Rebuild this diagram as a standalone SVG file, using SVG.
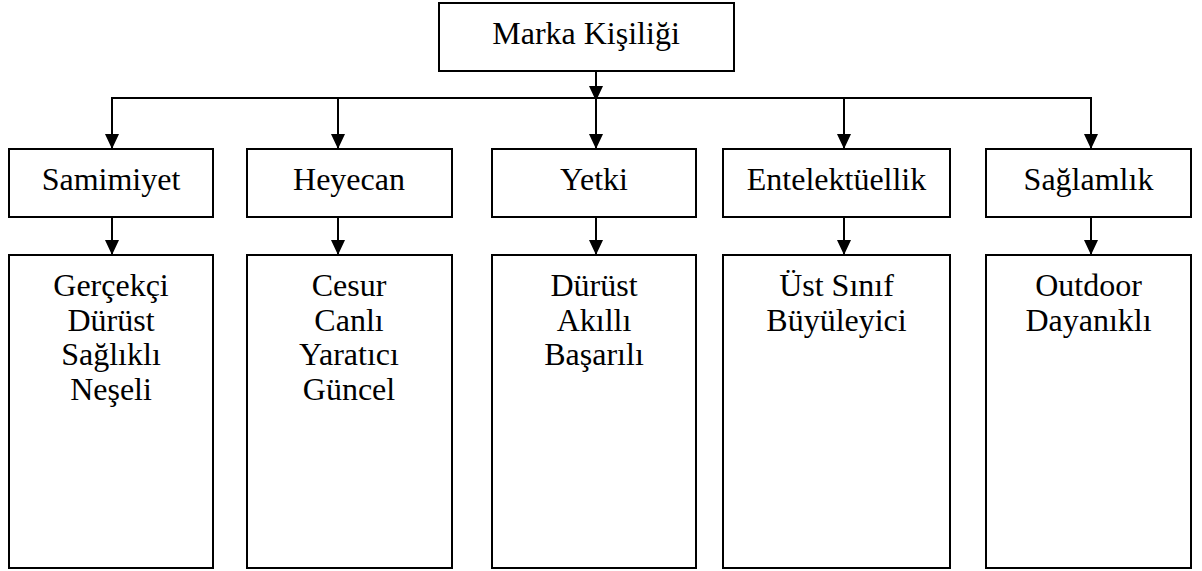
<svg xmlns="http://www.w3.org/2000/svg" width="1202" height="571" viewBox="0 0 1202 571">
<style>
.box{fill:#fff;stroke:#000;stroke-width:2}
.t{font-family:"Liberation Serif","Times New Roman",serif;font-size:32px;fill:#000;text-anchor:middle}
.c{fill:none;stroke:#000;stroke-width:2}
</style>
<defs>
<marker id="ah" viewBox="0 0 15 14" refX="15" refY="7" markerWidth="15" markerHeight="14" markerUnits="userSpaceOnUse" orient="auto">
<path d="M0,0 L15,7 L0,14 Z" fill="#000"/>
</marker>
</defs>
<rect width="1202" height="571" fill="#fff"/>
<g id="connectors">
<path class="c" d="M112,140 V98 H1091 V140"/>
<line class="c" x1="596" y1="71" x2="596" y2="101" marker-end="url(#ah)"/>
<line class="c" x1="596" y1="98" x2="596" y2="149" marker-end="url(#ah)"/>
<line class="c" x1="112" y1="98" x2="112" y2="149" marker-end="url(#ah)"/>
<line class="c" x1="338" y1="98" x2="338" y2="149" marker-end="url(#ah)"/>
<line class="c" x1="844" y1="98" x2="844" y2="149" marker-end="url(#ah)"/>
<line class="c" x1="1091" y1="98" x2="1091" y2="149" marker-end="url(#ah)"/>
<line class="c" x1="112" y1="217" x2="112" y2="255" marker-end="url(#ah)"/>
<line class="c" x1="338" y1="217" x2="338" y2="255" marker-end="url(#ah)"/>
<line class="c" x1="596" y1="217" x2="596" y2="255" marker-end="url(#ah)"/>
<line class="c" x1="844" y1="217" x2="844" y2="255" marker-end="url(#ah)"/>
<line class="c" x1="1091" y1="217" x2="1091" y2="255" marker-end="url(#ah)"/>
</g>
<g id="root"><rect class="box" x="439" y="3" width="295" height="68"/><text class="t" x="586" y="44">Marka Kişiliği</text></g>
<g id="samimiyet"><rect class="box" x="9" y="149" width="204" height="68"/><text class="t" x="111" y="190">Samimiyet</text></g>
<g id="heyecan"><rect class="box" x="247" y="149" width="205" height="68"/><text class="t" x="349" y="190">Heyecan</text></g>
<g id="yetki"><rect class="box" x="492" y="149" width="204" height="68"/><text class="t" x="594" y="190">Yetki</text></g>
<g id="entelektuellik"><rect class="box" x="723" y="149" width="227" height="68"/><text class="t" x="836.5" y="190">Entelektüellik</text></g>
<g id="saglamlik"><rect class="box" x="986" y="149" width="205" height="68"/><text class="t" x="1088.5" y="190">Sağlamlık</text></g>
<g id="samimiyet-list"><rect class="box" x="9" y="255" width="204" height="313"/>
<text class="t" x="111" y="296">Gerçekçi</text><text class="t" x="111" y="330.5">Dürüst</text><text class="t" x="111" y="365">Sağlıklı</text><text class="t" x="111" y="399.5">Neşeli</text></g>
<g id="heyecan-list"><rect class="box" x="247" y="255" width="205" height="313"/>
<text class="t" x="349" y="296">Cesur</text><text class="t" x="349" y="330.5">Canlı</text><text class="t" x="349" y="365">Yaratıcı</text><text class="t" x="349" y="399.5">Güncel</text></g>
<g id="yetki-list"><rect class="box" x="492" y="255" width="204" height="313"/>
<text class="t" x="594" y="296">Dürüst</text><text class="t" x="594" y="330.5">Akıllı</text><text class="t" x="594" y="365">Başarılı</text></g>
<g id="entelektuellik-list"><rect class="box" x="723" y="255" width="227" height="313"/>
<text class="t" x="836.5" y="296">Üst Sınıf</text><text class="t" x="836.5" y="330.5">Büyüleyici</text></g>
<g id="saglamlik-list"><rect class="box" x="986" y="255" width="205" height="313"/>
<text class="t" x="1088.5" y="296">Outdoor</text><text class="t" x="1088.5" y="330.5">Dayanıklı</text></g>
</svg>
